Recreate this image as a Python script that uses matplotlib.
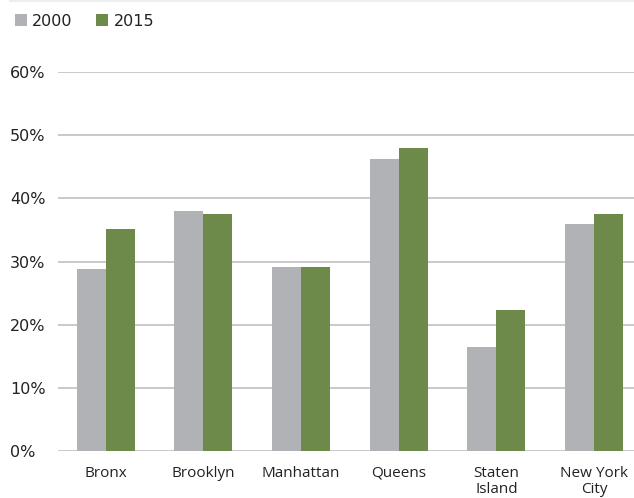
import matplotlib
matplotlib.use("Agg")
import matplotlib.pyplot as plt
import numpy as np
from matplotlib.lines import Line2D

boroughs = ["Bronx", "Brooklyn", "Manhattan", "Queens", "Staten\nIsland", "New York\nCity"]
share_2000 = [28.8, 38.0, 29.2, 46.3, 16.5, 35.9]
share_2015 = [35.1, 37.5, 29.2, 47.9, 22.4, 37.5]
y_ticks = [0, 10, 20, 30, 40, 50, 60]
y_tick_labels = ["0%", "10%", "20%", "30%", "40%", "50%", "60%"]

COL_2000 = "#b1b2b5"
COL_2015 = "#6e8a4a"
COL_GRID = "#c9c9cb"
COL_TEXT = "#222222"

W, H = 634, 498
fig = plt.figure(figsize=(W / 100, H / 100), dpi=100)
ax = fig.add_axes([58 / W, (H - 451) / H, 1 - 58 / W, (451 - 72) / H])

x = np.arange(len(boroughs))
bw = 0.297
ax.bar(x - bw / 2, share_2000, width=bw, color=COL_2000, zorder=2)
ax.bar(x + bw / 2, share_2015, width=bw, color=COL_2015, zorder=2)

ax.set_xlim(-0.49, 5.41)
ax.set_ylim(0, 60)
ax.set_yticks(y_ticks)
ax.set_yticklabels(y_tick_labels, ha="left", fontsize=11.5, color=COL_TEXT,
                   family="DejaVu Sans")
ax.tick_params(axis="y", length=0, pad=34.5)
# percent labels sit a touch above their gridlines
for lbl in ax.get_yticklabels():
    lbl.set_va("center_baseline")
ax.set_xticks(x)
ax.set_xticklabels(boroughs, fontsize=11, color=COL_TEXT, family="Open Sans",
                   linespacing=1.15)
ax.tick_params(axis="x", length=0, pad=10.5)
ax.yaxis.grid(True, color=COL_GRID, linewidth=1.4, zorder=0)
ax.set_axisbelow(True)
for s in ax.spines.values():
    s.set_visible(False)

# faint rule along the top edge
fig.add_artist(Line2D([10 / W, 1], [1 - 1 / H, 1 - 1 / H], color="#eeeeee",
                      linewidth=1.5))

handles = [
    Line2D([0], [0], marker="s", linestyle="none", markersize=8.6,
           markerfacecolor=COL_2000, markeredgewidth=0),
    Line2D([0], [0], marker="s", linestyle="none", markersize=8.6,
           markerfacecolor=COL_2015, markeredgewidth=0),
]
leg = fig.legend(handles, ["2000", "2015"], loc="center left",
                 bbox_to_anchor=(14 / W, 1 - 21 / H), ncol=2, frameon=False,
                 borderpad=0, borderaxespad=0,
                 handlelength=0.9, handletextpad=0.25, columnspacing=1.4,
                 prop={"family": "DejaVu Sans", "size": 11.5})
for t in leg.get_texts():
    t.set_color(COL_TEXT)

fig.savefig("out.png", dpi=100)
